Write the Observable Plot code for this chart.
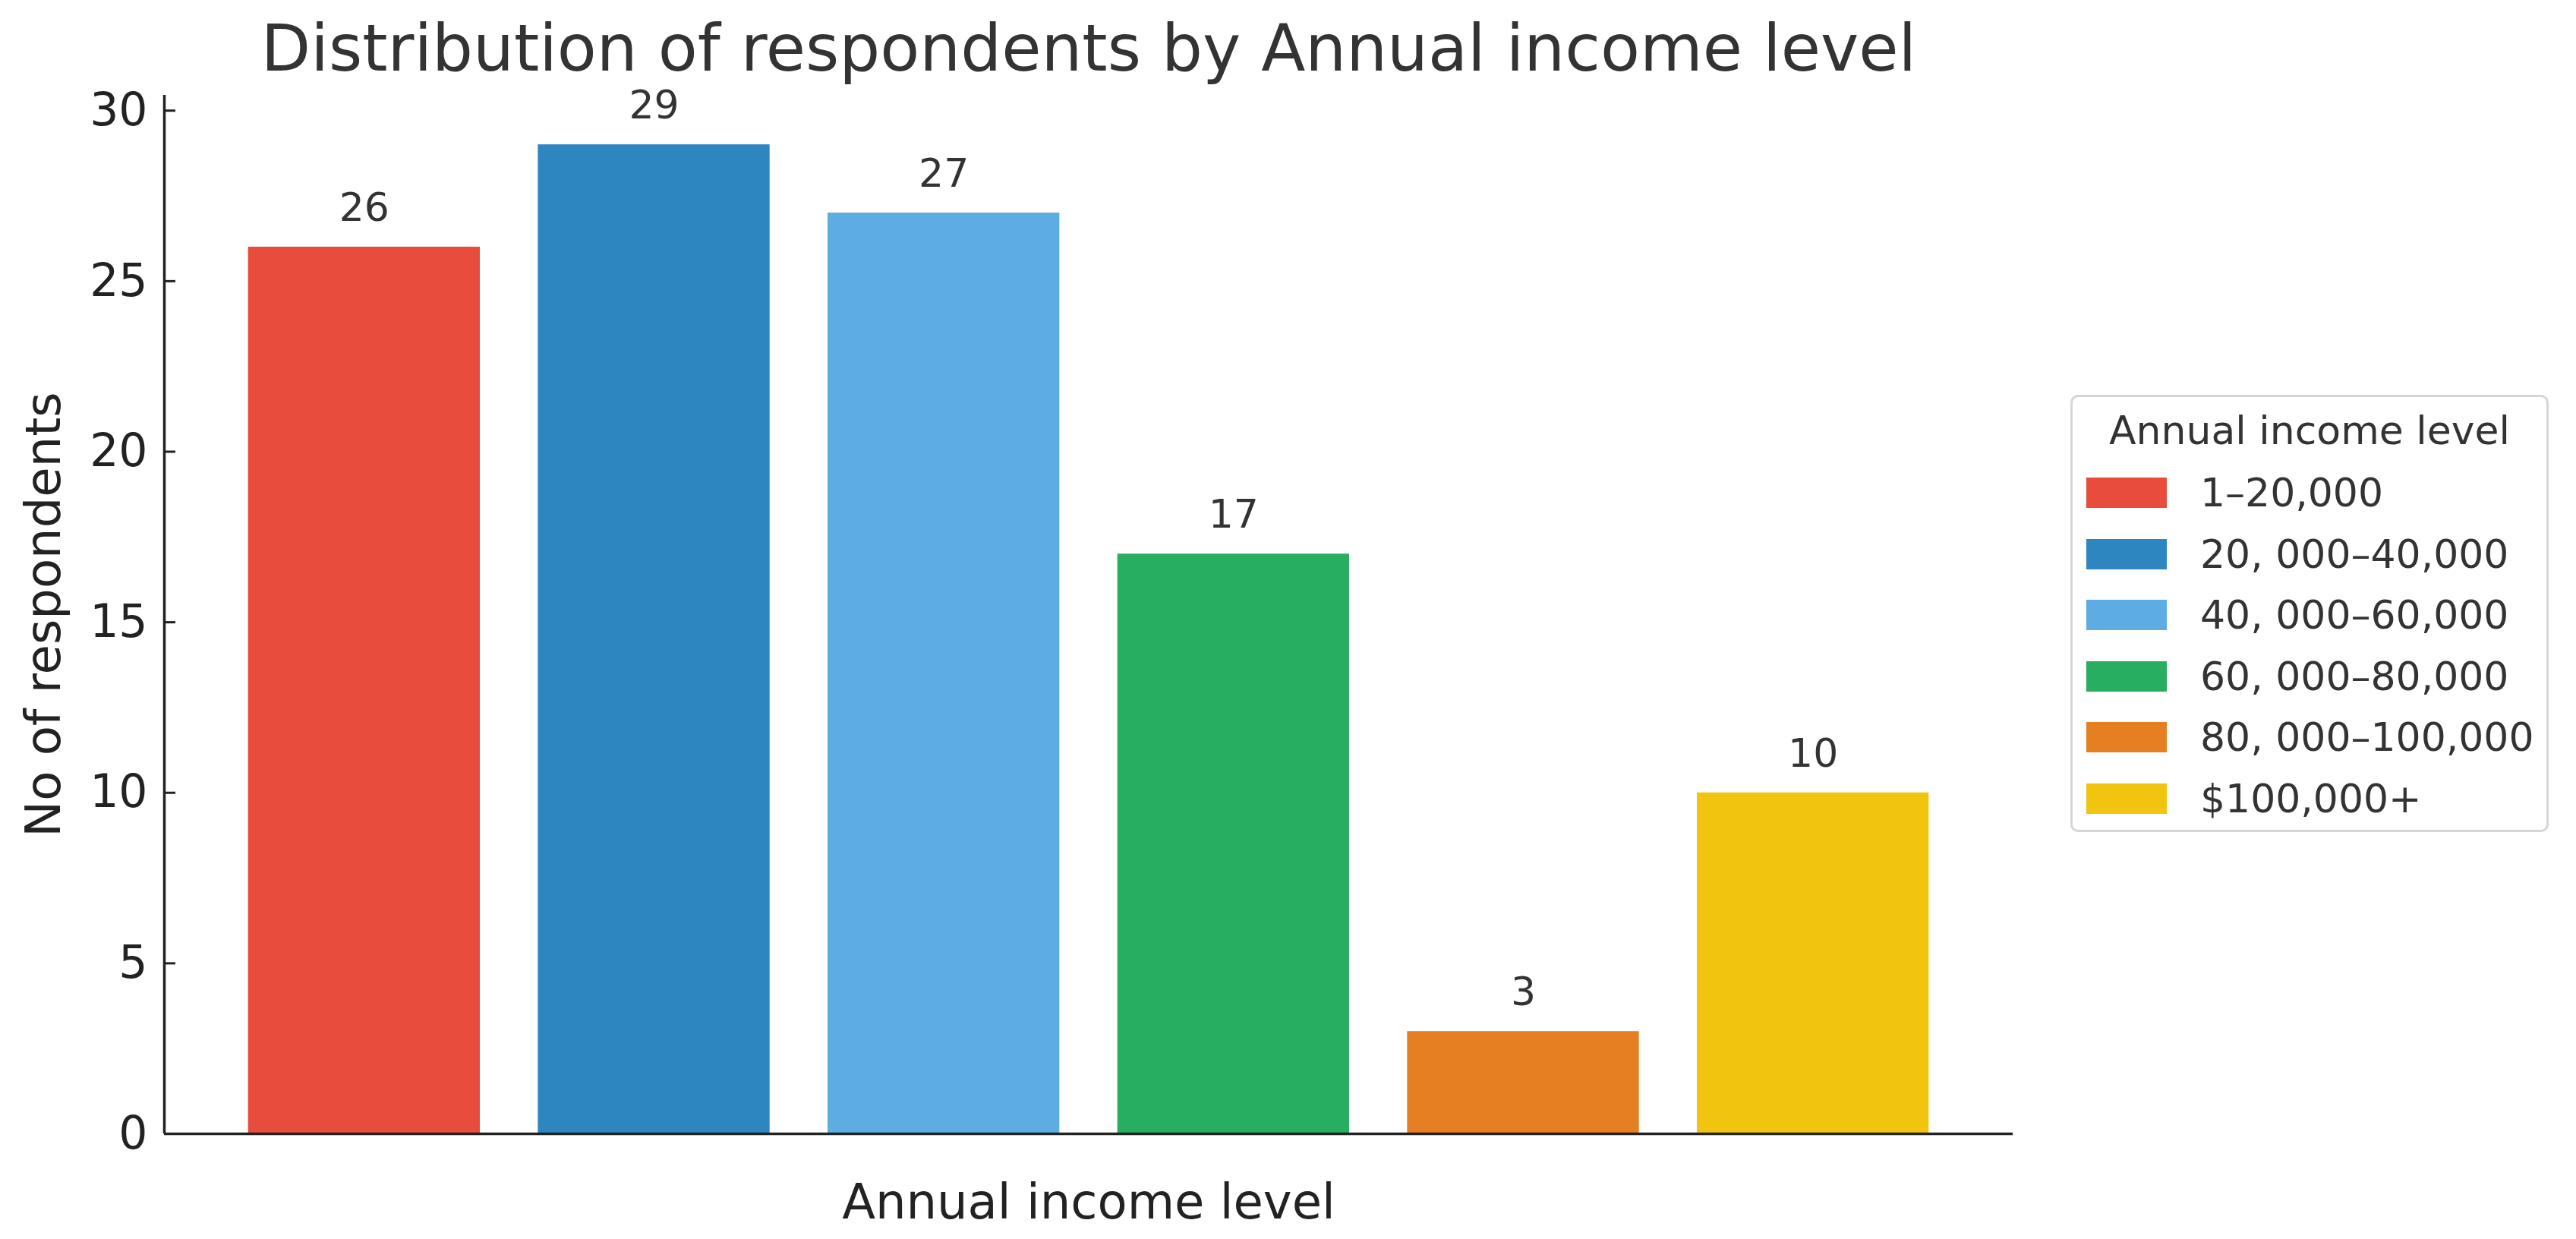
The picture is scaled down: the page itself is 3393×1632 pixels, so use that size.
<!DOCTYPE html>
<html>
<head>
<meta charset="utf-8">
<script src="https://cdn.jsdelivr.net/npm/d3@7"></script>
<script src="https://cdn.jsdelivr.net/npm/@observablehq/plot@0.6"></script>
<style>
  html, body { margin: 0; padding: 0; background: #fff; }
  #wrap { position: relative; width: 3393px; height: 1632px; font-family: "DejaVu Sans", sans-serif; }
  #legend {
    position: absolute; left: 2727px; top: 520px; width: 630px; height: 576px;
    box-sizing: border-box; border: 3px solid #d6d6d6; border-radius: 10px; background: #fff;
    color: #333; font-size: 52px;
  }
  #legend .ltitle { position: absolute; left: 0; right: 0; top: 12px; text-align: center; line-height: 64px; }
  #legend .row { position: absolute; left: 18px; height: 64px; display: flex; align-items: center; }
  #legend .sw { width: 106px; height: 40px; margin-right: 44px; }
</style>
</head>
<body>
<div id="wrap"></div>
<script>
const categories = ["1–20,000", "20, 000–40,000", "40, 000–60,000", "60, 000–80,000", "80, 000–100,000", "$100,000+"];
const counts = [26, 29, 27, 17, 3, 10];
const colors = ["#E74C3C", "#2E86C1", "#5DADE2", "#27AE60", "#E67E22", "#F1C40F"];
const yTicks = [0, 5, 10, 15, 20, 25, 30];
const titleText = "Distribution of respondents by Annual income level";
const xLabel = "Annual income level";
const yLabel = "No of respondents";
const legendTitle = "Annual income level";

const data = categories.map((c, i) => ({cat: c, i, n: counts[i]}));
const xmin = -0.69, xmax = categories.length - 1 + 0.69;

const chart = Plot.plot({
  width: 3393,
  height: 1632,
  marginLeft: 216,
  marginRight: 742,
  marginTop: 125,
  marginBottom: 139,
  style: {fontFamily: "DejaVu Sans, sans-serif", background: "#fff", overflow: "visible"},
  x: {type: "linear", domain: [xmin, xmax], axis: null},
  y: {domain: [0, 30.45], axis: null},
  color: {type: "ordinal", domain: categories, range: colors},
  marks: [
    Plot.rectY(data, {x1: d => d.i - 0.4, x2: d => d.i + 0.4, y1: 0, y2: "n", fill: "cat"}),
    Plot.text(data, {x: "i", y: "n", text: d => String(d.n), dy: -51, lineAnchor: "middle", fontSize: 52, fill: "#333"}),
    // y axis tick labels
    Plot.axisY({ticks: yTicks, tickSize: 0, tickPadding: 22, fontSize: 60, color: "#222", label: null}),
    // inward y ticks
    Plot.axisY({ticks: yTicks, tickSize: 15, tickFormat: () => "", dx: 15, strokeWidth: 3, stroke: "#222", label: null}),
    // spines
    Plot.ruleX([xmin], {stroke: "#222", strokeWidth: 3.5}),
    Plot.ruleY([0], {stroke: "#222", strokeWidth: 3.5}),
    // axis labels and title
    Plot.text([xLabel], {frameAnchor: "bottom", dy: 91, lineAnchor: "middle", textAnchor: "middle", fontSize: 64, fill: "#222"}),
    Plot.text([yLabel], {frameAnchor: "left", dx: -158, rotate: -90, lineAnchor: "middle", textAnchor: "middle", fontSize: 64, fill: "#222"}),
    Plot.text([titleText], {frameAnchor: "top", dy: -60, lineAnchor: "middle", textAnchor: "middle", fontSize: 85, fill: "#333"})
  ]
});

const wrap = document.getElementById("wrap");
wrap.appendChild(chart);

const legend = d3.select(wrap).append("div").attr("id", "legend");
legend.append("div").attr("class", "ltitle").text(legendTitle);
categories.forEach((c, i) => {
  const row = legend.append("div").attr("class", "row").style("top", (94 + i * 80.6) + "px");
  row.append("div").attr("class", "sw").style("background", colors[i]);
  row.append("span").text(c);
});
</script>
</body>
</html>
